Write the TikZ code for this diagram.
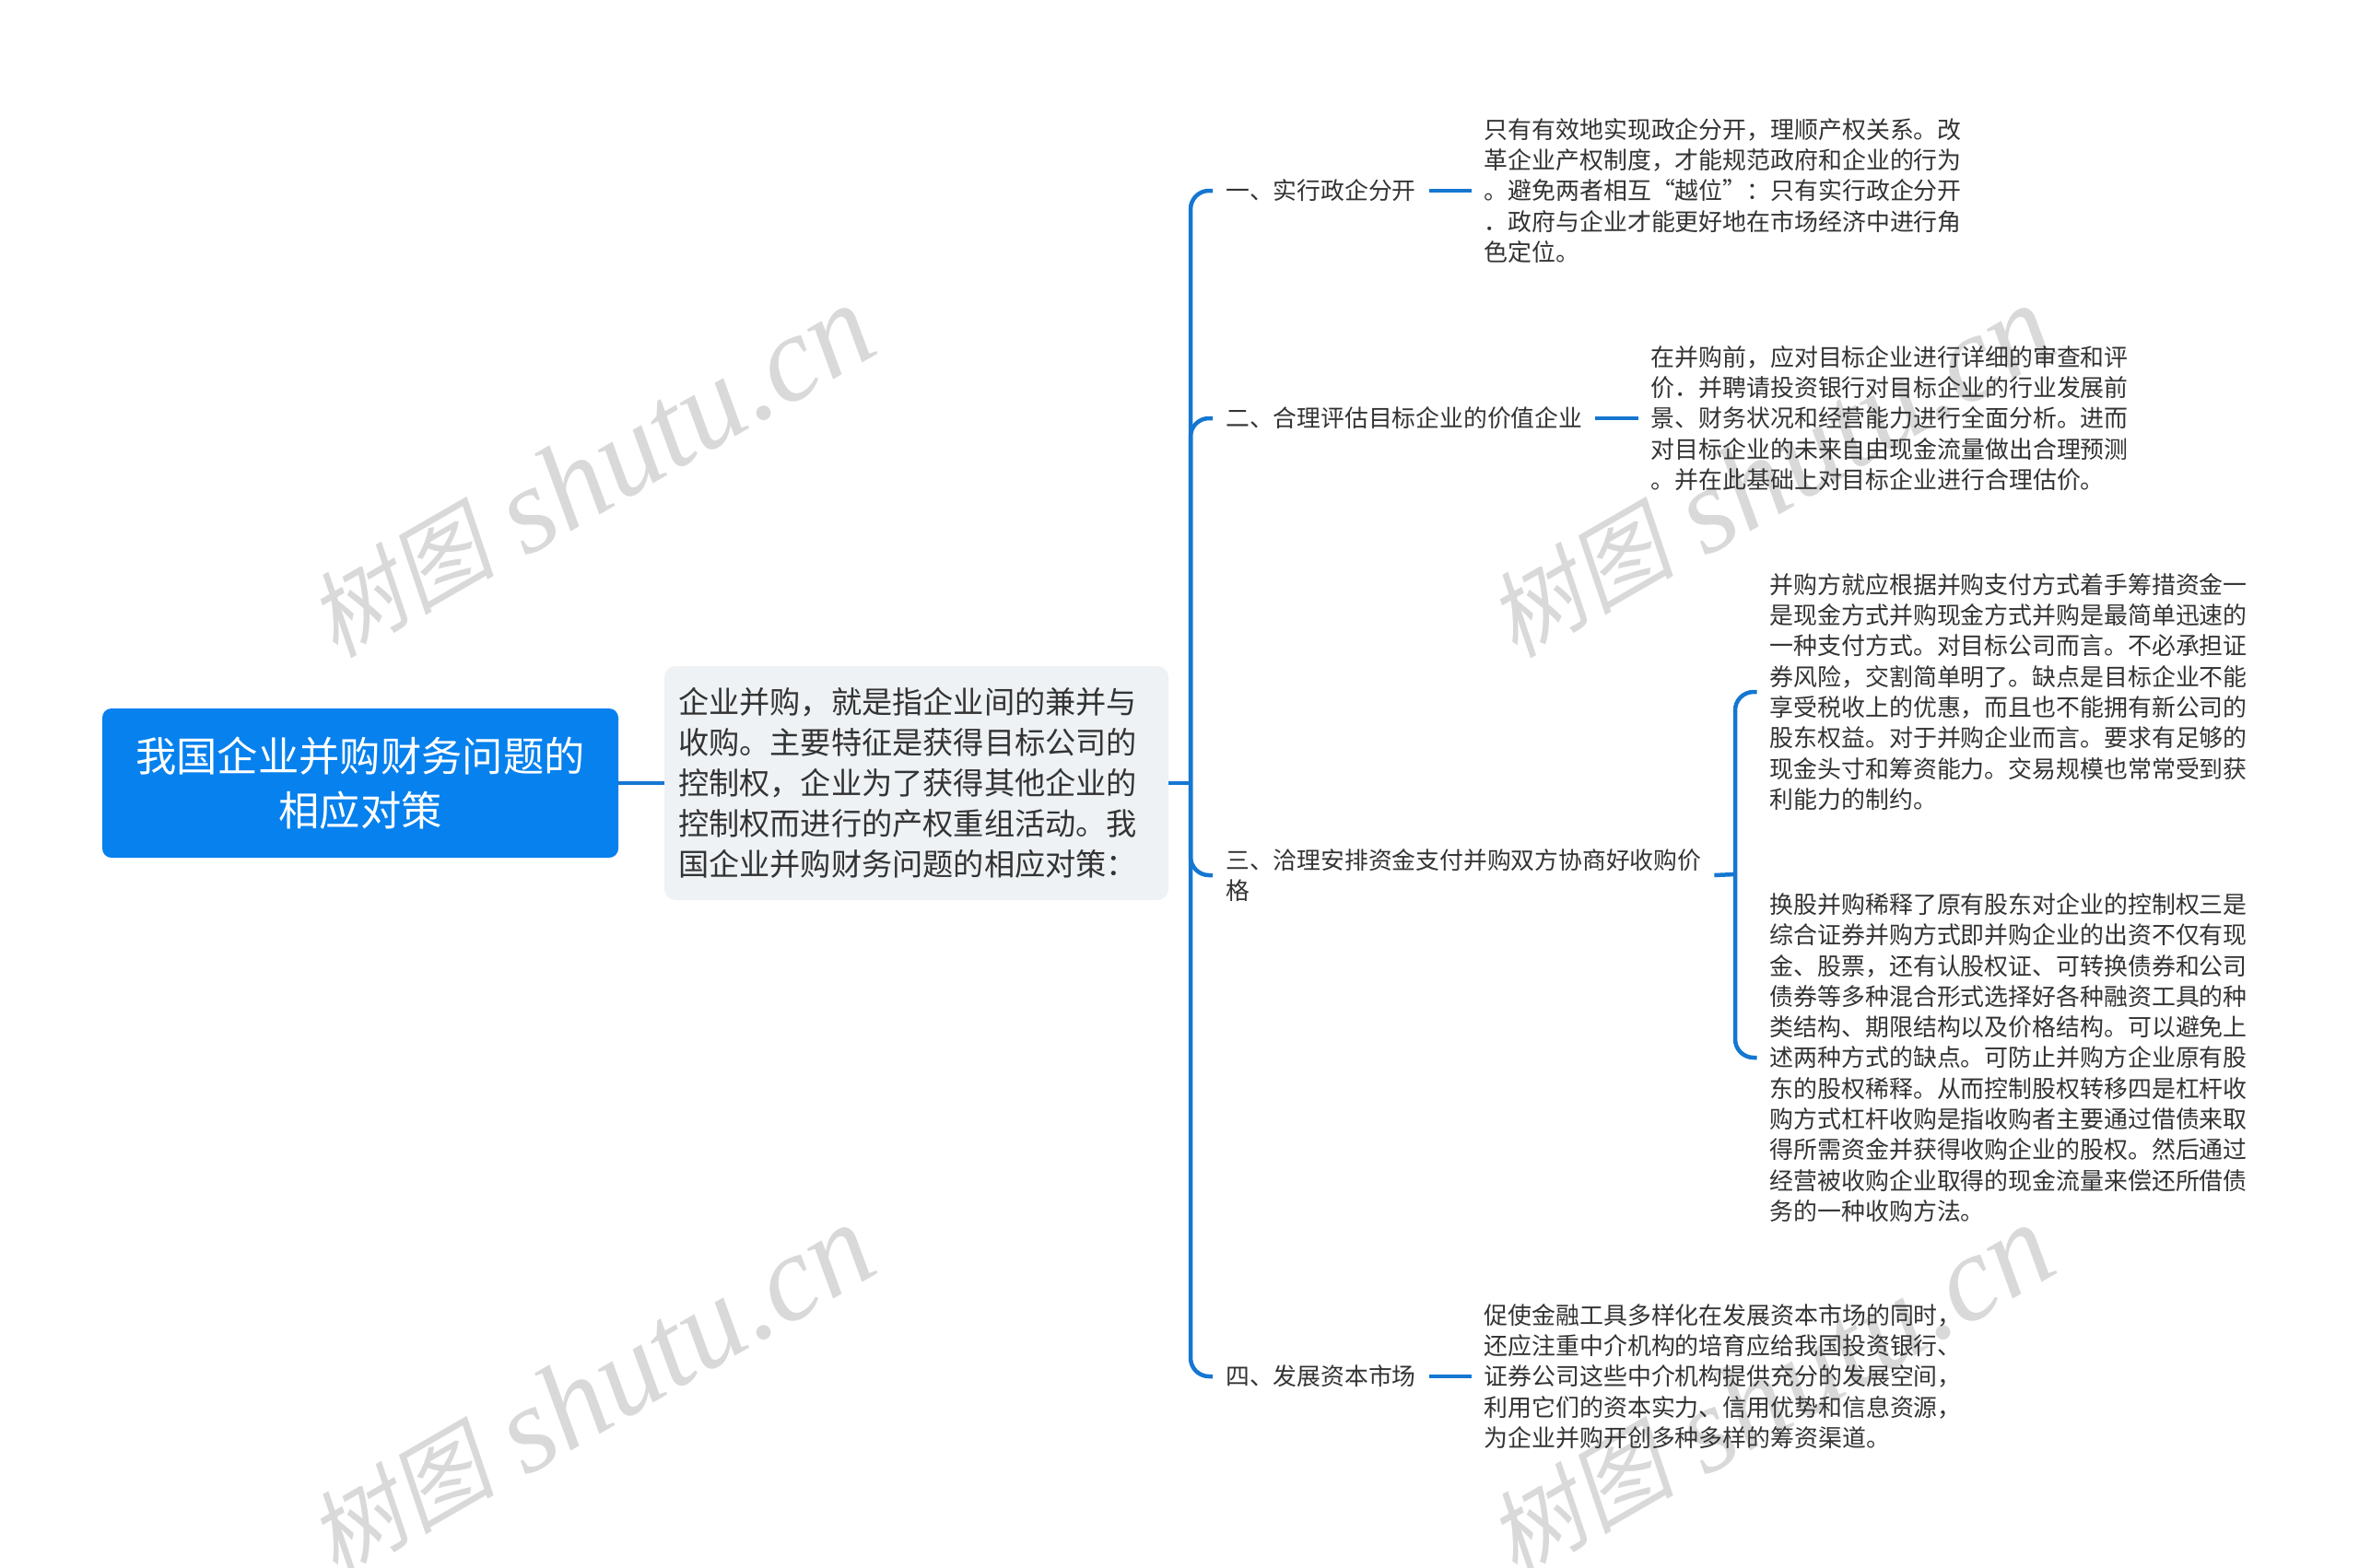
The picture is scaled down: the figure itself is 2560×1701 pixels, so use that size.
\documentclass[tikz,border=0pt]{standalone}
\usepackage{fontspec}
\setmainfont{Noto Sans CJK SC}
\newfontfamily\markcjk[FakeSlant=0.2]{Noto Sans CJK SC}
\newfontfamily\marklatin{Liberation Serif}
\definecolor{rootblue}{HTML}{0681EE}
\definecolor{linkblue}{HTML}{1577D2}
\definecolor{summarybg}{HTML}{EEF2F5}
\definecolor{bodytext}{HTML}{333333}
\definecolor{markgray}{HTML}{D9D9D9}
\begin{document}
\begin{tikzpicture}[x=1pt, y=-1pt,
        rootbox/.style={fill=rootblue, text=white, rounded corners=10pt, minimum width=560pt, minimum height=162pt,
            align=center, inner sep=0pt, font=\fontsize{44.3}{59}\selectfont},
        summarybox/.style={fill=summarybg, rounded corners=12pt, text=bodytext, text width=517pt, inner xsep=15pt, inner ysep=0pt,
            minimum height=254pt, align=left, font=\fontsize{33.2}{44}\selectfont},
        topic/.style={anchor=west, text=bodytext, align=left, inner xsep=14pt, inner ysep=0pt, font=\fontsize{25.8}{33.3}\selectfont},
        leaf/.style={topic, font=\fontsize{25.9}{33.3}\selectfont},
        link/.style={linkblue, line width=4.5pt},
        branch/.style={link, rounded corners=20pt},
        watermark/.style={text=markgray, rotate=30, inner sep=0pt, font=\fontsize{133}{133}\selectfont}]
        \useasboundingbox (0,0) rectangle (2560,1701);

        % Watermarks
        \foreach \mx/\my/\mn in {640/512/a, 1920/512/b, 640/1510/c, 1920/1510/d}
            \node[watermark] (mark\mn) at (\mx,\my) {\raisebox{8pt}{\markcjk\fontsize{102}{102}\selectfont 树图} {\marklatin\itshape shutu.cn}};

        % Boxes
        \node[rootbox] (root) at (391,850) {我国企业并购财务问题的\\相应对策};
        \node[summarybox] (summary) at (994.5,850) {企业并购，就是指企业间的兼并与\\收购。主要特征是获得目标公司的\\控制权，企业为了获得其他企业的\\控制权而进行的产权重组活动。我\\国企业并购财务问题的相应对策：};

        \coordinate (hub) at (1292,850);
        \coordinate (fork) at (1883,949);

        % Topics
        \node[topic] (one) at (1316,207) {一、实行政企分开};
        \node[topic] (two) at (1316,454) {二、合理评估目标企业的价值企业};
        \node[topic] (three) at (1316,950) {三、洽理安排资金支付并购双方协商好收购价\\格};
        \node[topic] (four) at (1316,1494) {四、发展资本市场};

        % Leaves
        \node[leaf] (oneleaf) at (1596.5,207) {只有有效地实现政企分开，理顺产权关系。改\\革企业产权制度，才能规范政府和企业的行为\\。避免两者相互“越位”：只有实行政企分开\\．政府与企业才能更好地在市场经济中进行角\\色定位。};
        \node[leaf] (twoleaf) at (1777.5,454) {在并购前，应对目标企业进行详细的审查和评\\价．并聘请投资银行对目标企业的行业发展前\\景、财务状况和经营能力进行全面分析。进而\\对目标企业的未来自由现金流量做出合理预测\\。并在此基础上对目标企业进行合理估价。};
        \node[leaf] (threeleafa) at (1906.5,751) {并购方就应根据并购支付方式着手筹措资金一\\是现金方式并购现金方式并购是最简单迅速的\\一种支付方式。对目标公司而言。不必承担证\\券风险，交割简单明了。缺点是目标企业不能\\享受税收上的优惠，而且也不能拥有新公司的\\股东权益。对于并购企业而言。要求有足够的\\现金头寸和筹资能力。交易规模也常常受到获\\利能力的制约。};
        \node[leaf] (threeleafb) at (1906.5,1148) {换股并购稀释了原有股东对企业的控制权三是\\综合证券并购方式即并购企业的出资不仅有现\\金、股票，还有认股权证、可转换债券和公司\\债券等多种混合形式选择好各种融资工具的种\\类结构、期限结构以及价格结构。可以避免上\\述两种方式的缺点。可防止并购方企业原有股\\东的股权稀释。从而控制股权转移四是杠杆收\\购方式杠杆收购是指收购者主要通过借债来取\\得所需资金并获得收购企业的股权。然后通过\\经营被收购企业取得的现金流量来偿还所借债\\务的一种收购方法。};
        \node[leaf] (fourleaf) at (1596.5,1494) {促使金融工具多样化在发展资本市场的同时，\\还应注重中介机构的培育应给我国投资银行、\\证券公司这些中介机构提供充分的发展空间，\\利用它们的资本实力、信用优势和信息资源，\\为企业并购开创多种多样的筹资渠道。};

        % Edges
        \draw[link] (root)--(summary);
        \draw[link] (summary)--(hub);
        \foreach \p in {one, two, three, four} \draw[branch] (hub) |- (\p.west);
        \draw[link] (one)--(oneleaf);
        \draw[link] (two)--(twoleaf);
        \draw[link] (three.east)--(fork);
        \draw[link] (four)--(fourleaf);
        \foreach \p in {threeleafa, threeleafb} \draw[branch] (fork) |- (\p.west);
    \end{tikzpicture}
\end{document}
